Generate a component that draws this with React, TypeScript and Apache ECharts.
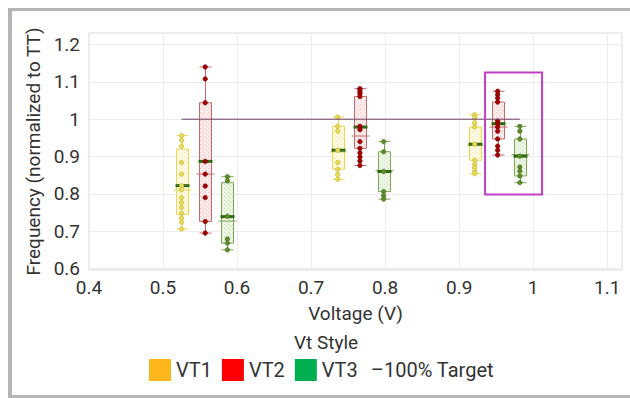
import React, { useEffect, useRef } from 'react';
import * as echarts from 'echarts';

// ---------- data ----------
const vtNames = ['VT1', 'VT2', 'VT3'];
const legendColors = ['#FDB71A', '#FF0000', '#00B050'];

// x positions (V) of each VT box in the three voltage groups
const vt1X = [0.525, 0.736, 0.921];
const vt2X = [0.557, 0.766, 0.952];
const vt3X = [0.587, 0.798, 0.982];

// box stats per group: [min, q1, median, q3, max, mean]
const vt1Box = [
  [0.706, 0.745, 0.822, 0.92, 0.956, 0.81],
  [0.839, 0.866, 0.917, 0.981, 1.006, 0.912],
  [0.854, 0.89, 0.933, 0.979, 1.012, 0.93],
];
const vt2Box = [
  [0.695, 0.726, 0.887, 1.044, 1.14, 0.853],
  [0.876, 0.922, 0.979, 1.061, 1.082, 0.955],
  [0.904, 0.947, 0.988, 1.046, 1.075, 0.979],
];
const vt3Box = [
  [0.65, 0.668, 0.739, 0.83, 0.846, 0.727],
  [0.786, 0.806, 0.86, 0.913, 0.94, 0.862],
  [0.83, 0.848, 0.901, 0.947, 0.981, 0.905],
];

// individual measured points per group
const vt1Points = [
  [0.956, 0.944, 0.928, 0.884, 0.853, 0.822, 0.811, 0.79, 0.777, 0.764, 0.748, 0.735, 0.724, 0.706],
  [1.006, 0.981, 0.968, 0.917, 0.884, 0.866, 0.852, 0.839],
  [1.012, 1.004, 0.99, 0.979, 0.933, 0.89, 0.879, 0.87, 0.861, 0.854],
];
const vt2Points = [
  [1.14, 1.108, 1.044, 0.887, 0.853, 0.821, 0.79, 0.726, 0.695],
  [1.082, 1.079, 1.073, 1.068, 1.061, 0.981, 0.972, 0.94, 0.922, 0.91, 0.899, 0.888, 0.876],
  [1.075, 1.066, 1.057, 1.046, 0.995, 0.988, 0.979, 0.968, 0.947, 0.928, 0.917, 0.904],
];
const vt3Points = [
  [0.846, 0.835, 0.74, 0.679, 0.668, 0.65],
  [0.94, 0.913, 0.86, 0.806, 0.795, 0.786],
  [0.981, 0.968, 0.947, 0.901, 0.872, 0.861, 0.848, 0.83],
];

const targetValue = 1;
const targetName = '–100% Target';
// highlighted region: [xStart, yTop, xEnd, yBottom]
const highlightBox = [0.935, 1.125, 1.012, 0.798];

const xMin = 0.4;
const xMax = 1.12;
const yMin = 0.596;
const yMax = 1.231;

// ---------- styles ----------
const boxStroke = ['#e4d85a', '#c76a6a', '#7ea455'];
const boxBase = ['#fffbe2', '#fdeaea', '#ecf4e4'];
const boxDot = ['#f1e7a0', '#efc4c4', '#cfe2bd'];
const pointFill = ['#e6da5a', '#a30000', '#5e8c2c'];
const pointBorder = ['#c4b52a', '#7a0000', '#44701a'];
const medianColor = '#2f6a10';
const FONT = 'Roboto';

function makePattern(base: string, dot: string) {
  const cv = document.createElement('canvas');
  cv.width = 4;
  cv.height = 4;
  const ctx = cv.getContext('2d')!;
  ctx.fillStyle = base;
  ctx.fillRect(0, 0, 4, 4);
  ctx.fillStyle = dot;
  ctx.fillRect(0, 0, 1, 1);
  ctx.fillRect(2, 2, 1, 1);
  return { image: cv.toDataURL(), repeat: 'repeat', imageWidth: 4, imageHeight: 4 };
}

const isTenth = (v: number) => Math.abs(v * 10 - Math.round(v * 10)) < 1e-6;
const tickFmt = (v: number) => (isTenth(v) ? String(Math.round(v * 10) / 10) : '');

export default function App() {
  const ref = useRef<HTMLDivElement>(null);
  useEffect(() => {
    document.body.style.margin = '0';
    if (!ref.current) return;
    const chart = echarts.init(ref.current, null, { renderer: 'svg' });

    const xs = [vt1X, vt2X, vt3X];
    const boxes = [vt1Box, vt2Box, vt3Box];
    const points = [vt1Points, vt2Points, vt3Points];

    const boxSeries = vtNames.map((name, k) => {
      const pattern = makePattern(boxBase[k], boxDot[k]);
      const stroke = boxStroke[k];
      return {
        name,
        type: 'custom',
        itemStyle: { color: legendColors[k] },
        z: 2,
        encode: { x: 0, y: [1, 2, 3, 4, 5] },
        data: boxes[k].map((b, i) => [xs[k][i], ...b]),
        renderItem: (params: any, api: any) => {
          const x = api.value(0);
          const c = (y: number) => api.coord([x, y]);
          const pMin = c(api.value(1));
          const pQ1 = c(api.value(2));
          const pMd = c(api.value(3));
          const pQ3 = c(api.value(4));
          const pMx = c(api.value(5));
          const pMean = c(api.value(6));
          const cx = Math.round(pMin[0]) + 0.5;
          const hw = 6;
          const ln = (x1: number, y1: number, x2: number, y2: number, st: any) => ({
            type: 'line',
            shape: { x1, y1, x2, y2 },
            style: st,
          });
          const thin = { stroke, lineWidth: 1 };
          return {
            type: 'group',
            children: [
              ln(cx, pMx[1], cx, pQ3[1], thin),
              ln(cx, pQ1[1], cx, pMin[1], thin),
              ln(cx - hw, pMx[1], cx + hw, pMx[1], thin),
              ln(cx - hw, pMin[1], cx + hw, pMin[1], thin),
              {
                type: 'rect',
                shape: { x: cx - hw, y: pQ3[1], width: hw * 2, height: pQ1[1] - pQ3[1] },
                style: { fill: pattern, stroke, lineWidth: 1 },
              },
              ln(cx - 9, pMean[1], cx + 9, pMean[1], { stroke, lineWidth: 1 }),
              ln(cx - 7, pMd[1], cx + 7, pMd[1], { stroke: medianColor, lineWidth: 3 }),
            ],
          };
        },
      };
    });

    const pointSeries = vtNames.map((name, k) => ({
      name,
      type: 'scatter',
      z: 3,
      symbolSize: 4.5,
      itemStyle: { color: pointFill[k], borderColor: pointBorder[k], borderWidth: 0.6, opacity: 1 },
      data: points[k].flatMap((arr, i) => arr.map((v) => [xs[k][i], v])),
    }));

    const option: any = {
      animation: false,
      textStyle: { fontFamily: FONT },
      grid: {
        left: 89,
        right: 8,
        top: 33,
        bottom: 128,
        show: true,
        borderColor: '#d8d8d8',
        borderWidth: 1,
        backgroundColor: 'transparent',
      },
      xAxis: {
        type: 'value',
        min: xMin,
        max: xMax,
        interval: 0.1,
        name: 'Voltage (V)',
        nameLocation: 'middle',
        nameGap: 34,
        nameTextStyle: { fontSize: 19, color: '#333', fontFamily: FONT },
        axisLine: { show: false },
        axisTick: { show: false },
        axisLabel: { fontSize: 19, color: '#333', margin: 8, formatter: tickFmt, fontFamily: FONT },
        splitLine: { show: true, lineStyle: { color: '#ececec', width: 1 } },
      },
      yAxis: {
        type: 'value',
        min: yMin,
        max: yMax,
        splitNumber: 6,
        name: 'Frequency (normalized to TT)',
        nameLocation: 'middle',
        nameGap: 38,
        nameTextStyle: { fontSize: 19, color: '#333', fontFamily: FONT },
        axisLine: { show: false },
        axisTick: { show: false },
        axisLabel: { fontSize: 19, color: '#333', margin: 9, formatter: tickFmt, fontFamily: FONT },
        splitLine: { show: true, lineStyle: { color: '#ececec', width: 1 } },
      },
      legend: [
        {
          data: vtNames.map((n, k) => ({
            name: n,
            icon: 'rect',
            itemStyle: { color: legendColors[k], borderWidth: 0 },
          })),
          left: 149,
          top: 359,
          padding: 0,
          itemWidth: 22,
          itemHeight: 22,
          itemGap: 10,
          textStyle: { fontSize: 20, color: '#333', fontFamily: FONT },
        },
        {
          data: [
            {
              name: targetName,
              lineStyle: { color: '#333', width: 0, opacity: 0 },
              itemStyle: { color: '#333', opacity: 0 },
            },
          ],
          left: 365,
          top: 360,
          padding: 0,
          itemWidth: 0,
          itemHeight: 2,
          textStyle: { fontSize: 20, color: '#333', fontFamily: FONT },
        },
      ],
      graphic: [
        { type: 'rect', shape: { x: 8, y: 8, width: 4, height: 390 }, style: { fill: '#b5b5b5' }, silent: true },
        { type: 'rect', shape: { x: 8, y: 8, width: 622, height: 3 }, style: { fill: '#b5b5b5' }, silent: true },
        { type: 'rect', shape: { x: 8, y: 395, width: 622, height: 3 }, style: { fill: '#b5b5b5' }, silent: true },
        {
          type: 'text',
          x: 326,
          y: 342,
          style: {
            text: 'Vt Style',
            fontSize: 19,
            fontFamily: FONT,
            fill: '#333',
            textAlign: 'center',
            textVerticalAlign: 'middle',
          },
        },
      ],
      series: [
        ...boxSeries,
        ...pointSeries,
        {
          name: targetName,
          type: 'line',
          symbol: 'none',
          z: 4,
          lineStyle: { color: '#6e3d62', width: 1 },
          data: [
            [vt1X[0], targetValue],
            [vt3X[2], targetValue],
          ],
        },
        {
          name: 'highlight',
          type: 'custom',
          z: 5,
          data: [highlightBox],
          renderItem: (params: any, api: any) => {
            const p0 = api.coord([api.value(0), api.value(1)]);
            const p1 = api.coord([api.value(2), api.value(3)]);
            return {
              type: 'rect',
              shape: { x: p0[0], y: p0[1], width: p1[0] - p0[0], height: p1[1] - p0[1] },
              style: { fill: 'none', stroke: '#c23fc9', lineWidth: 2 },
            };
          },
        },
      ],
    };
    chart.setOption(option);
    return () => chart.dispose();
  }, []);
  return <div ref={ref} style={{ width: 630, height: 398 }} />;
}
